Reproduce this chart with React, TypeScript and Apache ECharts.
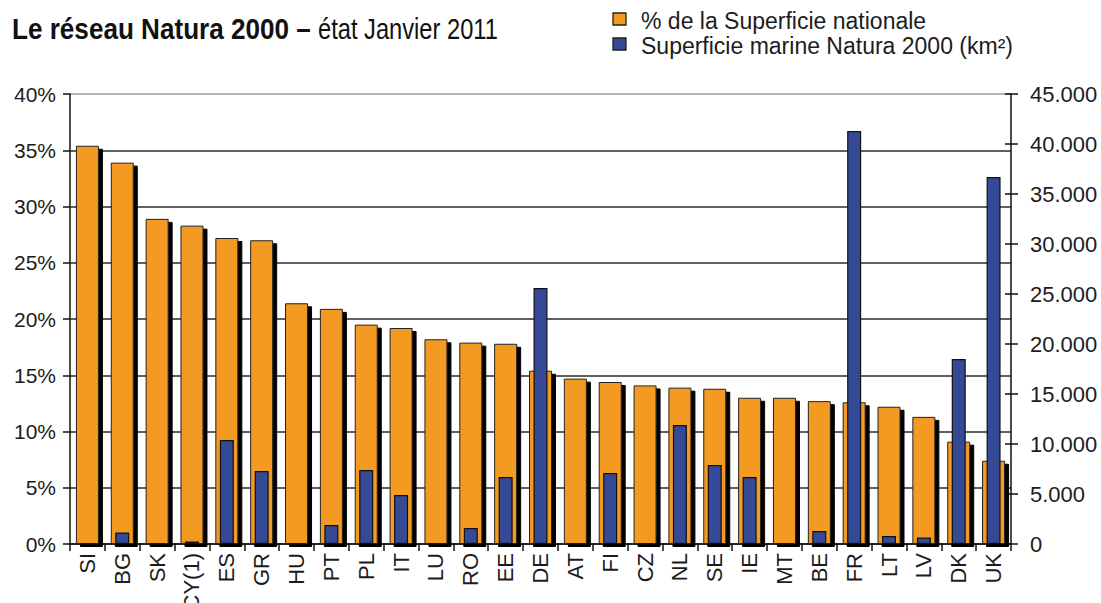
import React, { useEffect, useRef } from "react";
import * as echarts from "echarts";

const countries = ["SI","BG","SK","CY(1)","ES","GR","HU","PT","PL","IT","LU","RO","EE","DE","AT","FI","CZ","NL","SE","IE","MT","BE","FR","LT","LV","DK","UK"];
const pctNational = [35.4,33.9,28.9,28.3,27.2,27.0,21.4,20.9,19.5,19.2,18.2,17.9,17.8,15.4,14.7,14.4,14.1,13.9,13.8,13.0,13.0,12.7,12.6,12.2,11.3,9.1,7.4];
const marineKm2 = [0,1150,0,250,10400,7300,0,1900,7400,4900,0,1600,6700,25600,0,7100,0,11900,7900,6700,0,1300,41300,800,650,18500,36700];

const titleBold = "Le réseau Natura 2000 –";
const titleRegular = "état Janvier 2011";
const legendNames = ["% de la Superficie nationale", "Superficie marine Natura 2000 (km²)"];

const ORANGE = "#F49A20";
const BLUE = "#344A96";
const FONT = "'Liberation Sans', Arial, sans-serif";
const TEXT = "#1c1c1c";

export default function App() {
  const ref = useRef<HTMLDivElement>(null);
  useEffect(() => {
    if (!ref.current) return;
    const chart = echarts.init(ref.current, null, { renderer: "svg" });
    const fmtK = (v: number) => (v === 0 ? "0" : `${Math.round(v / 1000)}.000`);
    const gridColors = ["#2a2a2a", "#2a2a2a", "#2a2a2a", "#2a2a2a", "#2a2a2a", "#2a2a2a", "#2a2a2a", "#2a2a2a", "#9a9a9a"];
    chart.setOption({
      animation: false,
      backgroundColor: "#ffffff",
      grid: { left: 70, right: 90, top: 94, height: 450, containLabel: false, outerBoundsMode: "none" },
      xAxis: [
        {
          type: "category",
          data: countries,
          axisLine: { show: true, lineStyle: { color: "#111", width: 1.5 } },
          axisTick: { show: true, length: 7, lineStyle: { color: "#111", width: 1.5 } },
          axisLabel: { rotate: 90, fontFamily: FONT, fontSize: 22, color: TEXT, margin: 9 },
        },
        { type: "category", data: countries, show: false },
      ],
      yAxis: [
        {
          type: "value",
          min: 0,
          max: 40,
          interval: 5,
          position: "left",
          axisLine: { show: true, lineStyle: { color: "#111", width: 1.5 } },
          axisTick: { show: true, length: 7, lineStyle: { color: "#111", width: 1.5 } },
          axisLabel: { formatter: "{value}%", fontFamily: FONT, fontSize: 21, color: TEXT, margin: 14 },
          splitLine: { show: true, lineStyle: { color: gridColors, width: 1.5 } },
        },
        {
          type: "value",
          min: 0,
          max: 45000,
          interval: 5000,
          position: "right",
          axisLine: { show: true, lineStyle: { color: "#111", width: 1.5 } },
          axisTick: { show: true, length: 7, lineStyle: { color: "#111", width: 1.5 } },
          axisLabel: { formatter: fmtK, fontFamily: FONT, fontSize: 22, color: TEXT, margin: 19 },
          splitLine: { show: false },
        },
        {
          type: "value",
          min: 0,
          max: 45000,
          interval: 5000,
          position: "right",
          axisLine: { show: false },
          axisTick: { show: true, inside: true, length: 6, lineStyle: { color: "#111", width: 1.5 } },
          axisLabel: { show: false },
          splitLine: { show: false },
        },
      ],
      series: [
        {
          name: legendNames[0],
          type: "bar",
          xAxisIndex: 0,
          yAxisIndex: 0,
          data: pctNational,
          barWidth: 23,
          z: 2,
          itemStyle: {
            color: ORANGE,
            borderColor: "#222",
            borderWidth: 1,
            shadowColor: "#000",
            shadowBlur: 0,
            shadowOffsetX: 4,
            shadowOffsetY: 3,
          },
        },
        {
          name: legendNames[1],
          type: "bar",
          xAxisIndex: 1,
          yAxisIndex: 1,
          data: marineKm2,
          barWidth: 14,
          z: 3,
          itemStyle: { color: BLUE, borderColor: "#111", borderWidth: 1.2 },
        },
      ],
      graphic: [
        {
          type: "text",
          x: 12,
          y: 29,
          scaleX: 0.87,
          style: { text: titleBold, fontFamily: FONT, fontWeight: "bold", fontSize: 30, fill: "#111", verticalAlign: "middle" },
        },
        {
          type: "text",
          x: 318,
          y: 29,
          scaleX: 0.79,
          style: { text: titleRegular, fontFamily: FONT, fontSize: 30, fill: "#111", verticalAlign: "middle" },
        },
        { type: "rect", shape: { x: 613, y: 13, width: 13, height: 12 }, style: { fill: ORANGE, stroke: "#222", lineWidth: 1.3 } },
        { type: "rect", shape: { x: 613, y: 38, width: 13, height: 12 }, style: { fill: BLUE, stroke: "#222", lineWidth: 1.3 } },
        {
          type: "text",
          x: 641,
          y: 21,
          style: { text: legendNames[0], fontFamily: FONT, fontSize: 23, fill: TEXT, verticalAlign: "middle" },
        },
        {
          type: "text",
          x: 641,
          y: 46,
          style: { text: legendNames[1], fontFamily: FONT, fontSize: 23, fill: TEXT, verticalAlign: "middle" },
        },
      ],
    });
    return () => chart.dispose();
  }, []);
  return <div ref={ref} style={{ position: "fixed", left: 0, top: 0, width: 1101, height: 603 }} />;
}
